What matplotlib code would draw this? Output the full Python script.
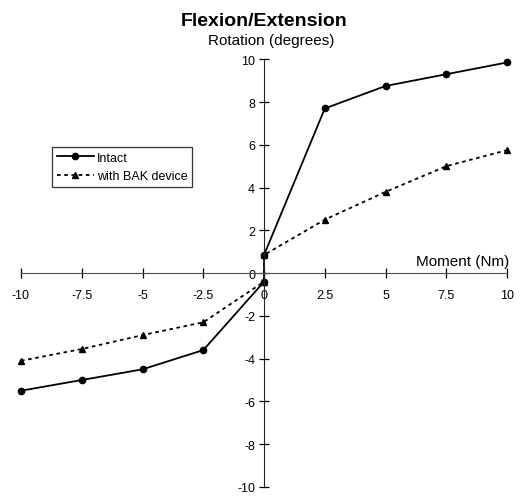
import numpy as np
import matplotlib
matplotlib.use('Agg')
import matplotlib.pyplot as plt

plt.rcParams['font.family'] = ['Liberation Sans', 'DejaVu Sans']

# moment (Nm); 0 appears twice (both sides of the jump)
moment = [-10, -7.5, -5, -2.5, 0, 0, 2.5, 5, 7.5, 10]
intact = [-5.5, -5.0, -4.5, -3.6, -0.4, 0.85, 7.7, 8.75, 9.3, 9.85]
bak = [-4.1, -3.55, -2.9, -2.3, -0.4, 0.85, 2.5, 3.8, 5.0, 5.75]

xticks = [-10, -7.5, -5, -2.5, 0, 2.5, 5, 7.5, 10]
xticklabels = ['-10', '-7.5', '-5', '-2.5', '0', '2.5', '5', '7.5', '10']
yticks = [-10, -8, -6, -4, -2, 0, 2, 4, 6, 8, 10]

fig = plt.figure(figsize=(5.25, 5.02), dpi=100)
ax = fig.add_axes([0.04, 0.028, 0.926, 0.852])

ax.plot(moment, intact, color='k', lw=1.3, marker='o', ms=4.5, label='Intact',
        clip_on=False)
ax.plot(moment, bak, color='k', lw=1.3, ls=(0, (2, 2)), marker='^', ms=5,
        label='with BAK device', clip_on=False)

ax.set_xlim(-10, 10)
ax.set_ylim(-10, 10)
for s in ['top', 'right']:
    ax.spines[s].set_visible(False)
ax.spines['left'].set_position(('data', 0))
ax.spines['bottom'].set_position(('data', 0))
ax.spines['bottom'].set_color('#3d5547')
ax.spines['left'].set_color('#222222')
ax.set_xticks(xticks)
ax.set_xticklabels(xticklabels, fontsize=9)
ax.set_yticks(yticks)
ax.set_yticklabels([str(v) for v in yticks], fontsize=9)
ax.tick_params(axis='both', direction='inout', length=7, width=0.9)
ax.tick_params(axis='x', pad=8)
ax.tick_params(axis='y', pad=3)

ax.text(0.5, 1.07, 'Flexion/Extension', transform=ax.transAxes, ha='center',
        va='bottom', fontsize=14, fontweight='bold')
ax.text(0.3, 10.55, 'Rotation (degrees)', ha='center', va='bottom', fontsize=11)
ax.text(10.1, 0.25, 'Moment (Nm)', ha='right', va='bottom', fontsize=11)

leg = ax.legend(loc='upper left', bbox_to_anchor=(0.05, 0.81), fontsize=9,
                frameon=True, fancybox=False, edgecolor='k', handlelength=3,
                borderpad=0.4, labelspacing=0.5, handletextpad=0.2)
leg.get_frame().set_linewidth(0.9)

fig.savefig('out.png', dpi=100)
